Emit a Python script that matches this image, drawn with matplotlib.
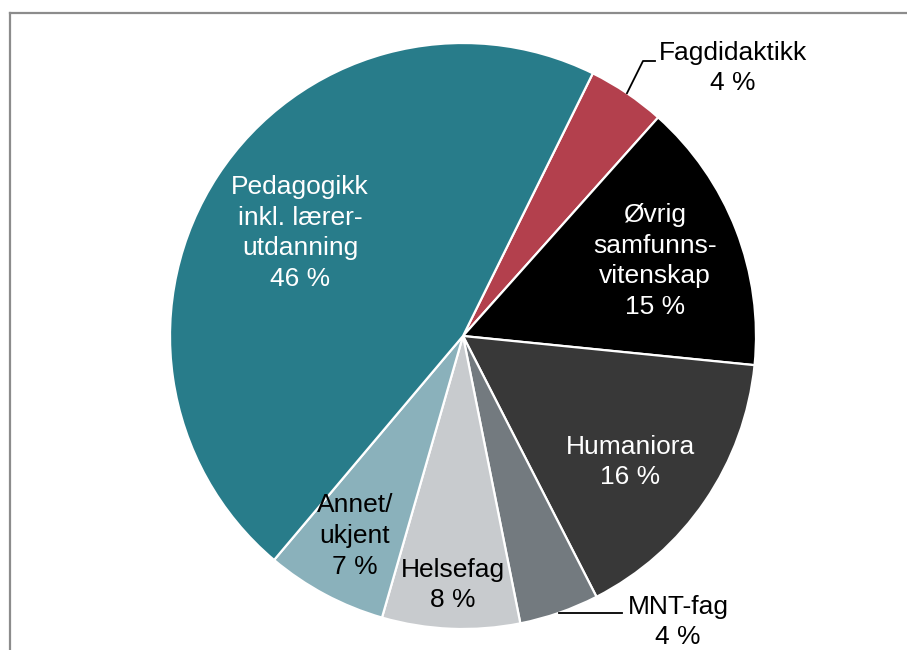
import matplotlib.pyplot as plt
import numpy as np

# Values (clockwise from Fagdidaktikk)
categories = ["Fagdidaktikk", "Øvrig samfunnsvitenskap", "Humaniora", "MNT-fag",
              "Helsefag", "Annet/ukjent", "Pedagogikk inkl. lærerutdanning"]
shares = [4.3, 15.0, 15.9, 4.4, 7.6, 6.7, 46.2]
label_texts = ["Fagdidaktikk\n4 %", "Øvrig\nsamfunns-\nvitenskap\n15 %", "Humaniora\n16 %",
               "MNT-fag\n4 %", "Helsefag\n8 %", "Annet/\nukjent\n7 %",
               "Pedagogikk\ninkl. lærer-\nutdanning\n46 %"]
colors = ["#B3404D", "#000000", "#383838", "#737A7F", "#C8CBCE", "#8AB1BB", "#287C8A"]

plt.rcParams['font.family'] = ['Liberation Sans', 'DejaVu Sans']

W, H = 907, 650
fig = plt.figure(figsize=(W / 100, H / 100), dpi=100)
ax = fig.add_axes([0, 0, 1, 1])

cx, cy, r = 463, H - 336, 293
wedges, _ = ax.pie(shares, colors=colors, startangle=63.7, counterclock=False,
                   center=(cx, cy), radius=r, frame=True,
                   wedgeprops=dict(edgecolor='white', linewidth=1.6))
ax.set_xlim(0, W)
ax.set_ylim(0, H)
ax.set_aspect('equal')
ax.axis('off')

# label positions (pixels, from top)
label_pos = [(733, 68), (655, 261), (630, 462), (678, 622), (453, 585), (355, 536), (300, 233)]
text_colors = ["black", "white", "white", "black", "black", "black", "white"]
for txt, (x, y), c in zip(label_texts, label_pos, text_colors):
    ax.text(x, H - y, txt, ha='center', va='center', fontsize=19, color=c,
            linespacing=1.36)

# leader lines from wedge mid-angles
def edge_point(w):
    a = np.deg2rad((w.theta1 + w.theta2) / 2)
    return cx + r * np.cos(a), cy + r * np.sin(a)

x0, y0 = edge_point(wedges[0])
ax.plot([x0, 643, 655], [y0, H - 61, H - 61], color='black', lw=1.3)
x0, y0 = edge_point(wedges[3])
ax.plot([x0, 622], [y0, y0], color='black', lw=1.3)

# chart frame (only top and left edges visible)
fig.add_artist(plt.Line2D([10 / W, 10 / W], [0, 1 - 13 / H], transform=fig.transFigure,
                          color='#8c8c8c', lw=1.6))
fig.add_artist(plt.Line2D([10 / W, 1], [1 - 13 / H, 1 - 13 / H], transform=fig.transFigure,
                          color='#8c8c8c', lw=1.6))

fig.savefig("out.png", dpi=100)
